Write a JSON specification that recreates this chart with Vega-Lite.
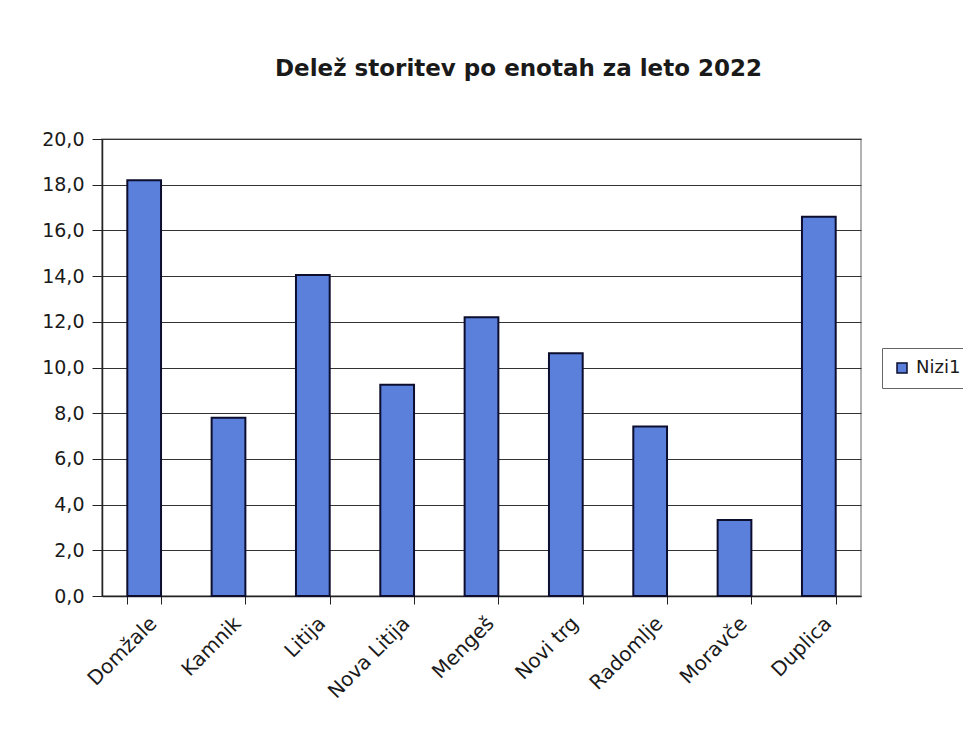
{
  "$schema": "https://vega.github.io/schema/vega-lite/v6.json",
  "autosize": {"type": "none"},
  "padding": {"left": 102, "top": 139, "right": 102, "bottom": 155},
  "width": 759,
  "height": 457,
  "background": "white",
  "title": {
    "text": "Delež storitev po enotah za leto 2022",
    "font": "DejaVu Sans",
    "fontSize": 23,
    "fontWeight": "bold",
    "color": "#1a1a1a",
    "anchor": "middle",
    "frame": "group",
    "dx": 37,
    "offset": 49
  },
  "data": {
    "values": [
      {"enota": "Domžale", "delez": 18.2, "serija": "Nizi1"},
      {"enota": "Kamnik", "delez": 7.8, "serija": "Nizi1"},
      {"enota": "Litija", "delez": 14.05, "serija": "Nizi1"},
      {"enota": "Nova Litija", "delez": 9.25, "serija": "Nizi1"},
      {"enota": "Mengeš", "delez": 12.2, "serija": "Nizi1"},
      {"enota": "Novi trg", "delez": 10.62, "serija": "Nizi1"},
      {"enota": "Radomlje", "delez": 7.42, "serija": "Nizi1"},
      {"enota": "Moravče", "delez": 3.33, "serija": "Nizi1"},
      {"enota": "Duplica", "delez": 16.6, "serija": "Nizi1"}
    ]
  },
  "mark": {"type": "bar", "stroke": "#0d0d2e", "strokeWidth": 2},
  "encoding": {
    "x": {
      "field": "enota",
      "type": "nominal",
      "sort": null,
      "scale": {"paddingInner": 0.6, "paddingOuter": 0.3},
      "axis": {
        "title": null,
        "labelAngle": -45,
        "labelAlign": "right",
        "labelBaseline": "middle",
        "labelFont": "DejaVu Sans",
        "labelFontSize": 20,
        "labelColor": "#1a1a1a",
        "labelPadding": 16,
        "labelOffset": 9,
        "tickBand": "extent",
        "tickSize": 8,
        "tickColor": "#222",
        "domainColor": "#222",
        "domainWidth": 1.5,
        "grid": false
      }
    },
    "y": {
      "field": "delez",
      "type": "quantitative",
      "scale": {"domain": [0, 20], "nice": false},
      "axis": {
        "title": null,
        "values": [0, 2, 4, 6, 8, 10, 12, 14, 16, 18, 20],
        "labelExpr": "replace(format(datum.value, '.1f'), '.', ',')",
        "labelFont": "DejaVu Sans",
        "labelFontSize": 19,
        "labelColor": "#1a1a1a",
        "labelPadding": 8,
        "tickSize": 10,
        "tickColor": "#222",
        "domainColor": "#222",
        "domainWidth": 1.5,
        "grid": true,
        "gridColor": "#333",
        "gridWidth": 1.2
      }
    },
    "color": {
      "field": "serija",
      "type": "nominal",
      "scale": {"range": ["#5a80dc"]},
      "legend": {
        "title": null,
        "orient": "none",
        "legendX": 780,
        "legendY": 209,
        "padding": 11,
        "strokeColor": "#666",
        "fillColor": "white",
        "symbolType": "square",
        "symbolSize": 100,
        "symbolStrokeColor": "#0d0d2e",
        "symbolStrokeWidth": 1.5,
        "symbolOffset": 0,
        "labelFont": "DejaVu Sans",
        "labelFontSize": 18,
        "labelColor": "#1a1a1a",
        "labelOffset": 5
      }
    }
  },
  "config": {
    "view": {"stroke": "#999", "strokeWidth": 1.5}
  }
}
